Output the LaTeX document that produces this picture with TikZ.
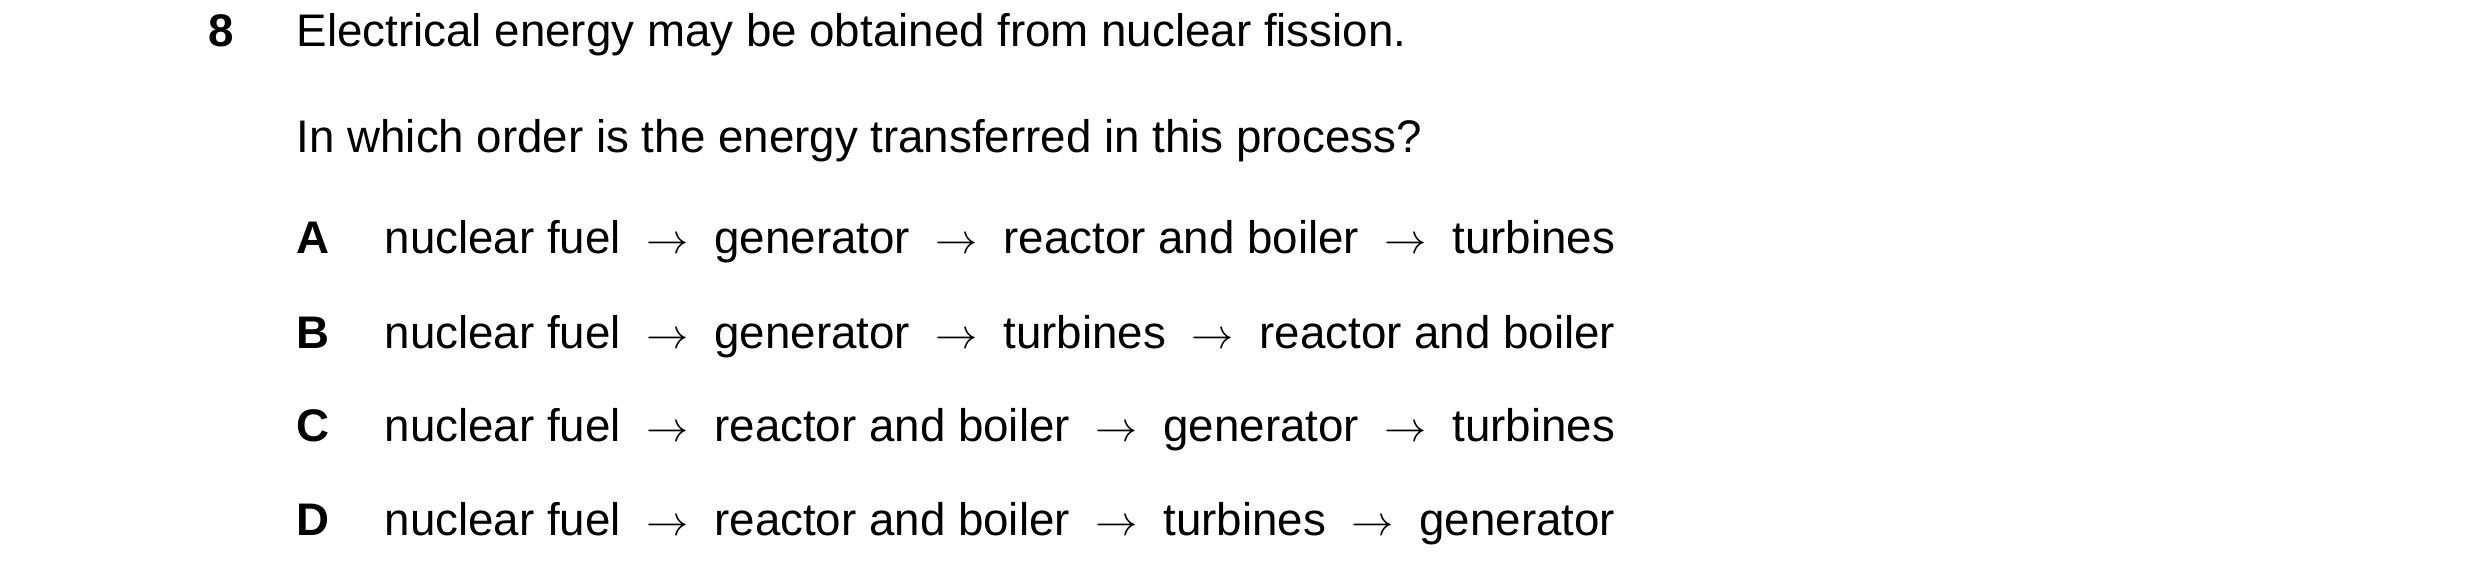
\documentclass[tikz,border=0pt]{standalone}
\usepackage{fontspec}
\setmainfont{Liberation Sans}
\usetikzlibrary{positioning}
\tikzset{
    txt/.style={anchor=base west, inner sep=0pt, font=\fontsize{13}{15}\selectfont},
    lbl/.style={txt, font=\fontsize{13}{15}\selectfont\bfseries}
}
\newcommand{\tto}{\hspace{7.3pt}$\rightarrow$\hspace{7.3pt}}
\begin{document}
\begin{tikzpicture}
    \useasboundingbox (0,0) rectangle (24.80,-5.83);
    \node[lbl] (qnum) at (2.08,-0.46) {8};
    \node[txt] (stem) at (2.96,-0.46) {Electrical energy may be obtained from nuclear fission.};
    \node[txt] (ask) at (2.96,-1.52) {In which order is the energy transferred in this process?};
    % options
    \node[lbl] (la) at (2.96,-2.53) {A};
    \node[txt] (oa) at (3.84,-2.53) {nuclear fuel\tto generator\tto reactor and boiler\tto turbines};
    \node[lbl] (lb) at (2.96,-3.48) {B};
    \node[txt] (ob) at (3.84,-3.48) {nuclear fuel\tto generator\tto turbines\tto reactor and boiler};
    \node[lbl] (lc) at (2.96,-4.41) {C};
    \node[txt] (oc) at (3.84,-4.41) {nuclear fuel\tto reactor and boiler\tto generator\tto turbines};
    \node[lbl] (ld) at (2.96,-5.35) {D};
    \node[txt] (od) at (3.84,-5.35) {nuclear fuel\tto reactor and boiler\tto turbines\tto generator};
\end{tikzpicture}
\end{document}
